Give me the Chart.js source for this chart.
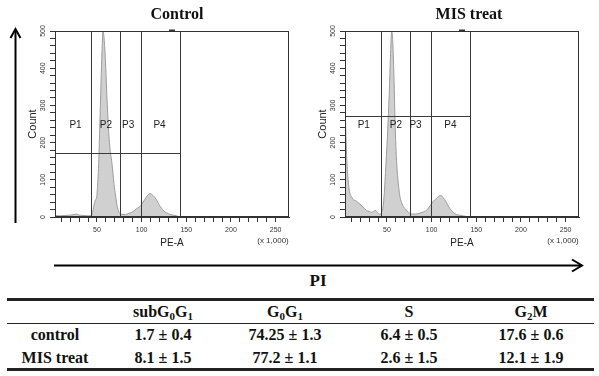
<!DOCTYPE html>
<html>
<head>
<meta charset="utf-8">
<script src="https://cdn.jsdelivr.net/npm/chart.js@4.4.1/dist/chart.umd.min.js"></script>
<style>
  body { margin: 0; background: #fff; }
  #page { position: relative; width: 599px; height: 376px; overflow: hidden; font-family: "Liberation Serif", "Times New Roman", serif; color: #111; }
  canvas { position: absolute; top: 0; }
  .title { position: absolute; font-weight: bold; font-size: 16px; line-height: 16px; white-space: nowrap; transform: translateX(-50%); }
  .cell { position: absolute; width: 140px; margin-left: -70px; text-align: center; font-weight: bold; font-size: 16px; line-height: 16px; white-space: nowrap; }
  .rule { position: absolute; left: 7px; width: 587px; background: #222; }
  sub { font-size: 11px; line-height: 0; vertical-align: -3px; }
</style>
</head>
<body>
<div id="page">
  <svg width="599" height="376" style="position:absolute;left:0;top:0">
    <g stroke="#000" stroke-width="2" fill="none">
      <line x1="15.5" y1="223" x2="15.5" y2="30"/>
      <polyline points="10.5,38 15.5,29 20.5,38"/>
      <line x1="54" y1="265.5" x2="581" y2="265.5"/>
      <polyline points="572,259.5 582,265.5 572,271.5"/>
    </g>
  </svg>
  <canvas id="ctrlChart" width="300" height="255" style="left:0"></canvas>
  <canvas id="misChart" width="300" height="255" style="left:290px"></canvas>
  <div class="title" style="left:177px; top:6px">Control</div>
  <div class="title" style="left:469px; top:6px">MIS treat</div>
  <div class="title" style="left:318px; top:272px; font-size:17px; line-height:17px">PI</div>
  <div class="rule" style="top:298px; height:2.5px"></div>
  <div class="rule" style="top:322.5px; height:1.5px"></div>
  <div class="rule" style="top:368px; height:2.5px"></div>
  <div id="table"></div>
</div>

<script>
// histogram: PE-A (x 1,000) and count
const ctrlPE = [3, 8, 14, 20, 25, 27, 30, 36, 40, 43.5, 45, 46.5, 48, 49.7, 51, 51.9, 53, 54.5, 55.7, 56.7, 58, 59.5, 61, 63, 65, 66.8, 69, 71, 73, 75, 78, 82, 86, 90.7, 94.5, 99.3, 103, 106, 109.4, 113, 116.9, 119.5, 122.5, 125, 128, 132, 137.4, 142];
const ctrlCount = [4, 3, 4, 5, 7, 8, 5, 4, 3, 4, 12, 30, 45, 54, 100, 144, 233, 360, 450, 500, 480, 420, 330, 233, 175, 144, 90, 54, 25, 12, 7, 7, 10, 15, 23, 31, 45, 56, 63, 57, 45, 33, 23, 16, 11, 7, 4, 1];

const misPE = [2.3, 3.3, 4.3, 5.3, 6.5, 7.8, 9, 10.5, 12, 15, 18, 21, 23, 25, 27, 30, 33, 35, 36.6, 38.5, 40.5, 42.5, 44, 45.2, 46.7, 48.9, 50.8, 52.5, 54, 55.3, 56.5, 58, 59, 60, 61, 62.5, 64.5, 67, 70, 74, 78, 82, 86, 90, 94.4, 97, 100, 103, 105.6, 108, 110, 113, 116.4, 119, 122, 125, 127.6, 131, 135, 140];
const misCount = [360, 280, 200, 140, 100, 72, 60, 54, 47, 44, 38, 32, 27, 22, 18, 15, 13, 15, 18, 15, 9, 8, 12, 22, 54, 144, 233, 330, 440, 500, 470, 360, 260, 190, 140, 95, 55, 35, 23, 13, 8, 8, 10, 13, 18, 26, 36, 45, 50, 56, 58, 52, 40, 28, 18, 11, 7, 5, 3, 1];

// gates P1-P4
const gateNames = ["P1", "P2", "P3", "P4"];
const ctrlGates = [43.3, 75.8, 99.3, 143];
const misGates = [43.3, 75.8, 99.3, 143];
const ctrlGateCount = 173;
const misGateCount = 271;
const ctrlLabelPE = [26, 60, 85, 120];
const misLabelPE = [24, 60, 82, 121];
const labelCount = 246;
const topMarkPE = 134;

// axis labels
const xTickLabels = [50, 100, 150, 200, 250];
const yTickLabels = [0, 100, 200, 300, 400, 500];

// cell cycle table (%)
const groups = ["control", "MIS treat"];
const phases = ["subG<sub>0</sub>G<sub>1</sub>", "G<sub>0</sub>G<sub>1</sub>", "S", "G<sub>2</sub>M"];
const ctrlMean = [1.7, 74.25, 6.4, 17.6];
const ctrlSd = [0.4, 1.3, 0.5, 0.6];
const misMean = [8.1, 77.2, 2.6, 12.1];
const misSd = [1.5, 1.1, 1.5, 1.9];

Chart.defaults.font.family = '"Liberation Sans", Arial, sans-serif';
Chart.defaults.color = '#333';

const gatePlugin = {
    id: 'gates',
    afterDatasetsDraw(chart, args, opts) {
        const { ctx, chartArea: a, scales: { x, y } } = chart;
        ctx.save();
        ctx.strokeStyle = '#3a3a3a';
        ctx.lineWidth = 1;
        ctx.beginPath();
        opts.xs.forEach(v => {
            let px = Math.round(x.getPixelForValue(v)) + 0.5;
            ctx.moveTo(px, a.top);
            ctx.lineTo(px, a.bottom);
        });
        let py = Math.round(y.getPixelForValue(opts.count)) + 0.5;
        ctx.moveTo(a.left, py);
        ctx.lineTo(Math.round(x.getPixelForValue(opts.xs[opts.xs.length - 1])) + 0.5, py);
        ctx.stroke();

        ctx.strokeStyle = '#333';
        ctx.strokeRect(a.left + 0.5, a.top + 0.5, a.right - a.left - 1, a.bottom - a.top - 1);

        // little marker above the frame
        let mx = x.getPixelForValue(topMarkPE);
        ctx.lineWidth = 2;
        ctx.beginPath();
        ctx.moveTo(mx - 3, a.top - 0.5);
        ctx.lineTo(mx + 3, a.top - 0.5);
        ctx.stroke();

        ctx.fillStyle = '#222';
        ctx.font = '10px "Liberation Sans", Arial, sans-serif';
        ctx.textAlign = 'center';
        ctx.textBaseline = 'middle';
        gateNames.forEach((n, i) => {
            ctx.fillText(n, x.getPixelForValue(opts.labelXs[i]), y.getPixelForValue(labelCount));
        });

        ctx.font = '8px "Liberation Sans", Arial, sans-serif';
        ctx.fillStyle = '#333';
        ctx.fillText('(x 1,000)', a.right - 16, a.bottom + 24);
        ctx.restore();
    }
};

function createChart(canvasId, pe, counts, gates, gateCount, labelXs) {
    return new Chart(document.getElementById(canvasId), {
        type: 'line',
        data: {
            datasets: [{
                data: pe.map((v, i) => ({ x: v, y: counts[i] })),
                fill: 'origin',
                backgroundColor: '#d0d0d0',
                borderColor: '#9c9c9c',
                borderWidth: 1,
                pointRadius: 0,
                cubicInterpolationMode: 'monotone'
            }]
        },
        options: {
            responsive: false,
            animation: false,
            layout: { padding: { left: 20, right: 11, top: 31, bottom: 0 } },
            plugins: {
                legend: { display: false },
                tooltip: { enabled: false },
                gates: { xs: gates, count: gateCount, labelXs: labelXs }
            },
            scales: {
                x: {
                    type: 'linear',
                    min: 3,
                    max: 265,
                    afterBuildTicks: s => { s.ticks = s.ticks.filter(t => t.value % 10 === 0); },
                    afterFit: s => { s.height = 38; },
                    ticks: {
                        stepSize: 10,
                        autoSkip: false,
                        maxRotation: 0,
                        padding: 4,
                        font: { size: 7 },
                        callback: v => xTickLabels.includes(v) ? String(v) : ''
                    },
                    grid: { drawOnChartArea: false, tickLength: 5, color: '#333' },
                    border: { color: '#333' },
                    title: { display: true, text: 'PE-A', font: { size: 10 }, color: '#222', padding: { top: 0, bottom: 6 } }
                },
                y: {
                    min: 0,
                    max: 500,
                    afterFit: s => { s.width = 35; },
                    ticks: {
                        stepSize: 20,
                        autoSkip: false,
                        minRotation: 90,
                        maxRotation: 90,
                        crossAlign: 'center',
                        padding: 1,
                        font: { size: 7 },
                        callback: v => yTickLabels.includes(v) ? String(v) : ''
                    },
                    grid: { drawOnChartArea: false, tickLength: 5, color: '#333' },
                    border: { color: '#333' },
                    title: { display: true, text: 'Count', font: { size: 11 }, color: '#222', padding: { top: 6, bottom: 0 } }
                }
            }
        },
        plugins: [gatePlugin]
    });
}

createChart('ctrlChart', ctrlPE, ctrlCount, ctrlGates, ctrlGateCount, ctrlLabelPE);
createChart('misChart', misPE, misCount, misGates, misGateCount, misLabelPE);

// table
const colX = [55, 163, 285, 409, 531];
const rowTop = [303.6, 327, 349.6];
let html = '';
phases.forEach((p, i) => {
    html += `<div class="cell" style="left:${colX[i + 1]}px; top:${rowTop[0]}px">${p}</div>`;
});
[[ctrlMean, ctrlSd], [misMean, misSd]].forEach(([m, s], r) => {
    html += `<div class="cell" style="left:${colX[0]}px; top:${rowTop[r + 1]}px">${groups[r]}</div>`;
    m.forEach((v, i) => {
        html += `<div class="cell" style="left:${colX[i + 1]}px; top:${rowTop[r + 1]}px">${v} ± ${s[i]}</div>`;
    });
});
document.getElementById('table').innerHTML = html;
</script>
</body>
</html>
